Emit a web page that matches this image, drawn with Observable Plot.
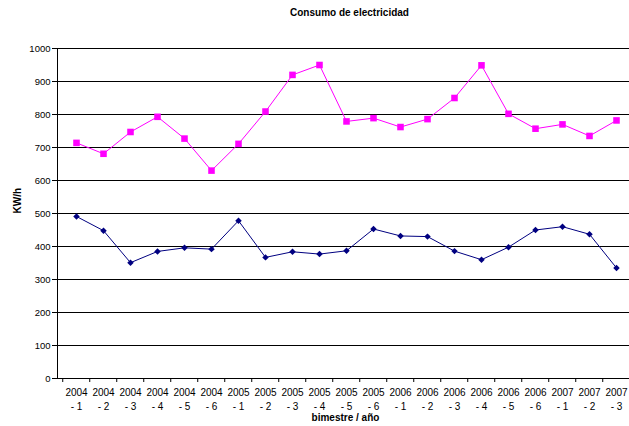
<!DOCTYPE html>
<html><head><meta charset="utf-8">
<script src="https://cdn.jsdelivr.net/npm/d3@7"></script>
<script src="https://cdn.jsdelivr.net/npm/@observablehq/plot@0.6"></script>
<style>
body{margin:0;background:#fff;font-family:"Liberation Sans",Arial,sans-serif;}
#wrap{width:629px;height:426px;overflow:hidden;}
#title{height:28px;line-height:26px;font-size:10px;font-weight:bold;text-align:center;padding-left:70px;box-sizing:border-box;width:629px;color:#000;}
</style></head><body>
<div id="wrap"><div id="title">Consumo de electricidad</div><div id="chart"></div></div>
<script>
const years = ["2004","2004","2004","2004","2004","2004","2005","2005","2005","2005","2005","2005","2006","2006","2006","2006","2006","2006","2007","2007","2007"];
const bimestres = ["1","2","3","4","5","6","1","2","3","4","5","6","1","2","3","4","5","6","1","2","3"];
const serieRosa = [714, 681, 747, 793, 727, 630, 711, 809, 920, 950, 779, 789, 762, 786, 850, 949, 802, 757, 770, 735, 782];
const serieAzul = [491, 448, 351, 385, 396, 392, 478, 367, 384, 377, 387, 453, 432, 430, 386, 360, 398, 450, 460, 437, 335];
const yTicks = [0,100,200,300,400,500,600,700,800,900,1000];
const yTitle = "KW/h";
const xTitle = "bimestre / año";

const periods = years.map((y, i) => y + "\n- " + bimestres[i]);
const rosa = periods.map((p, i) => ({p, v: serieRosa[i]}));
const azul = periods.map((p, i) => ({p, v: serieAzul[i]}));

const x0 = 57.2, step = 27.53;
const chart = Plot.plot({
  width: 629, height: 398,
  marginLeft: 57, marginRight: 0, marginTop: 20, marginBottom: 48,
  style: {fontFamily: "'Liberation Sans', Arial, sans-serif", fontSize: "9.5px", color: "#000", background: "#fff"},
  x: {type: "point", domain: periods, range: [x0, x0 + step * periods.length], padding: 0.5},
  y: {domain: [0, 1000], range: [350, 20]},
  marks: [
    Plot.ruleY(yTicks, {stroke: "#000", strokeWidth: 1}),
    Plot.frame({anchor: "left", stroke: "#000"}),
    Plot.axisY({ticks: yTicks, tickSize: 5, tickPadding: 2, tickFormat: d => String(d), label: null, stroke: "#000"}),
    Plot.axisX({ticks: periods, tickSize: 4, tickFormat: () => "", dx: -step / 2, label: null, stroke: "#000"}),
    Plot.axisX({ticks: periods, tickSize: 0, tickPadding: 8, lineHeight: 1.35, fontSize: 10, label: null, fill: "#000"}),
    Plot.text([yTitle], {frameAnchor: "left", dx: -40, rotate: -90, fontWeight: "bold", fontSize: 10, fill: "#000"}),
    Plot.text([xTitle], {frameAnchor: "bottom", dy: 42, dx: 2, fontWeight: "bold", fontSize: 10, fill: "#000"}),
    Plot.line(rosa, {x: "p", y: "v", stroke: "#FF00FF", strokeWidth: 1}),
    Plot.dot(rosa, {x: "p", y: "v", symbol: "square", r: 3.7, fill: "#FF00FF", stroke: "none"}),
    Plot.line(azul, {x: "p", y: "v", stroke: "#000080", strokeWidth: 1}),
    Plot.dot(azul, {x: "p", y: "v", symbol: "diamond2", r: 2.9, fill: "#000080", stroke: "none"})
  ]
});
document.getElementById("chart").appendChild(chart);
</script>
</body></html>
